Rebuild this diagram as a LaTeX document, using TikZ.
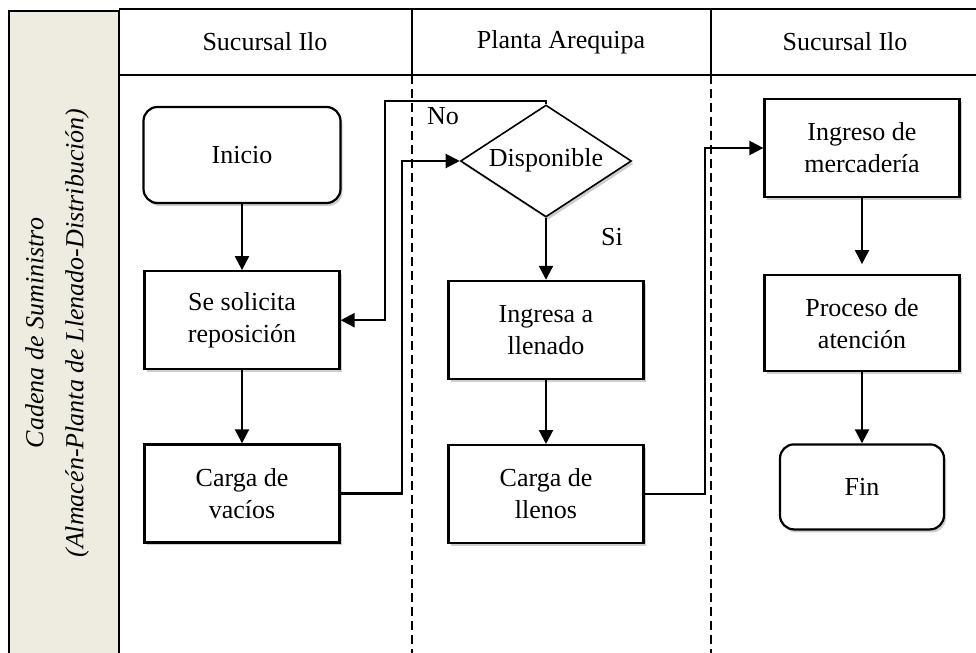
\documentclass[tikz,border=0pt]{standalone}
\usepackage{fontspec}
\setmainfont{Liberation Serif}
\usetikzlibrary{positioning,shapes.geometric,arrows.meta,shadows}
\definecolor{beige}{HTML}{EEECE1}

\begin{document}
\begin{tikzpicture}
[x=0.5pt,y=-0.5pt,font=\fontsize{13}{16}\selectfont,
sombra/.style={drop shadow={shadow xshift=1pt,shadow yshift=-1.5pt,fill=black!55,opacity=.35}},
caja/.style={draw,fill=white,line width=1.1pt,minimum width=97.5pt,minimum height=49pt,align=center,sombra},
terminal/.style={caja,rounded corners=7pt},
decision/.style={diamond,draw,fill=white,line width=0.8pt,minimum width=85.5pt,minimum height=56pt,inner sep=0pt,sombra},
flecha/.style={line width=1.1pt,-{Triangle[width=7pt,length=7pt]}},
carril/.style={line width=0.6pt,dash pattern=on 4.5pt off 2.5pt}]
\path[use as bounding box,fill=white] (0,0) rectangle (976,653);
% lanes
\fill[beige] (9,11) rectangle (119,653);
\draw[line width=0.6pt] (9,653) -- (9,11) -- (119,11) -- (119,653);
\draw[line width=0.6pt] (119,9) -- (976,9) (119,75) -- (976,75)
 (412,9) -- (412,75) (711,9) -- (711,75);
\draw[carril] (412,75) -- (412,653);
\draw[carril] (711,75) -- (711,653);
\node (h1) at (265,42) {Sucursal Ilo};
\node (h2) at (561,42) {Planta Arequipa};
\node (h3) at (845,42) {Sucursal Ilo};
\node[rotate=90,align=center,font=\fontsize{13}{16}\itshape] (cadena) at (57,333)
 {Cadena de Suministro\\[4pt](Almacén-Planta de Llenado-Distribución)};
% nodes
\node[terminal,minimum width=98.5pt,minimum height=48pt] (inicio) at (242,155) {Inicio};
\node[caja,below=33pt of inicio] (solic) {Se solicita\\reposición};
\node[caja,below=36.5pt of solic] (vacios) {Carga de\\vacíos};
\node[decision] (disp) at (546,161) {\raisebox{4pt}{\makebox[0pt]{Disponible}}};
\node[caja,below=31pt of disp] (ingresa) {Ingresa a\\llenado};
\node[caja,below=32pt of ingresa] (llenos) {Carga de\\llenos};
\node[caja] (ingreso) at (862,148) {Ingreso de\\mercadería};
\node[caja,below=38pt of ingreso,minimum height=48pt] (proceso) {Proceso de\\atención};
\node[terminal,below=35.5pt of proceso,minimum width=82pt,minimum height=42.5pt] (fin) {Fin};
\node (no) at (443,116) {No};
\node (si) at (612,237) {Si};
% arrows
\draw[flecha] (inicio) -- (solic);
\draw[flecha] (solic) -- (vacios);
\draw[flecha] (vacios.east) -- ++(61,0) |- (disp.west);
\draw[flecha] (disp.north) -- ++(0,-3) -- ++(-161,0) |- (solic.east);
\draw[flecha] (disp) -- (ingresa);
\draw[flecha] (ingresa) -- (llenos);
\draw[flecha] (llenos.east) -- ++(60,0) |- (ingreso.west);
\draw[flecha,shorten >=5pt] (ingreso) -- (proceso);
\draw[flecha] (proceso) -- (fin);
\end{tikzpicture}
\end{document}
